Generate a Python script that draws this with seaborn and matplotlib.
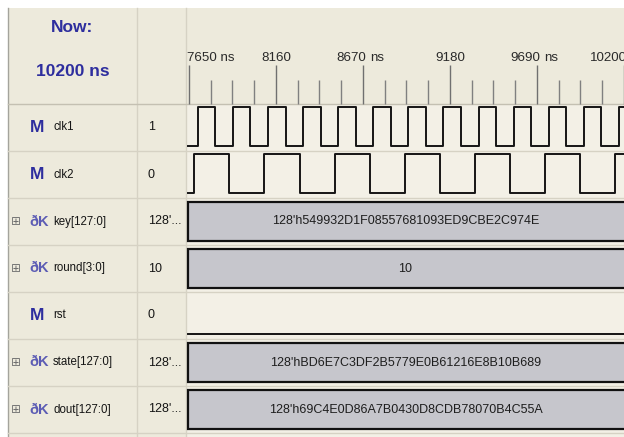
import pandas as pd
import matplotlib
matplotlib.use("Agg")
import matplotlib.pyplot as plt
import matplotlib.transforms as mtransforms
from matplotlib import font_manager
from matplotlib.patches import Rectangle
from matplotlib.ticker import MultipleLocator
import seaborn as sns

# ---- signal data (time in ns) ----
clk1_times = [7645, 7700, 7800, 7900, 8000, 8100, 8200, 8300, 8400, 8500, 8600, 8700, 8800,
              8900, 9000, 9100, 9200, 9300, 9400, 9500, 9600, 9700, 9800, 9900, 10000, 10100, 10200]
clk1_levels = [0, 1, 0, 1, 0, 1, 0, 1, 0, 1, 0, 1, 0, 1, 0, 1, 0, 1, 0, 1, 0, 1, 0, 1, 0, 1, 0]
clk2_times = [7645, 7680, 7880, 8080, 8280, 8480, 8680, 8880, 9080, 9280, 9480, 9680, 9880, 10080, 10280]
clk2_levels = [0, 1, 0, 1, 0, 1, 0, 1, 0, 1, 0, 1, 0, 1, 0]
rst_times = [7645, 10300]
rst_levels = [0, 0]

signal_names = ["clk1", "clk2", "key[127:0]", "round[3:0]", "rst", "state[127:0]", "dout[127:0]"]
signal_values = ["1", "0", "128'...", "10", "0", "128'...", "128'..."]
signal_is_bus = [False, False, True, True, False, True, True]

bus_rows = [2, 3, 5, 6]
bus_starts = [7645, 7645, 7645, 7645]
bus_ends = [10300, 10300, 10300, 10300]
bus_labels = ["128'h549932D1F08557681093ED9CBE2C974E",
              "10",
              "128'hBD6E7C3DF2B5779E0B61216E8B10B689",
              "128'h69C4E0D86A7B0430D8CDB78070B4C55A"]

major_ticks = [7650, 8160, 8670, 9180, 9690, 10200]
major_labels = ["7650 ns", "8160", "8670 ns", "9180", "9690 ns", "10200"]
now_label = "10200 ns"

# ---- layout (pixels) ----
W, H = 624, 437
LEFT, TOP = 8, 8
COL1, WAVE_X = 137, 186
HEAD_Y, ROW_H = 104, 47
PX_PER_NS = 89.5 / 510
t0 = 7650 - 3 / PX_PER_NS
t1 = t0 + (W - WAVE_X) / PX_PER_NS

PANEL_BG = "#EDEADC"
WAVE_BG = "#F3F0E6"
GRID = "#D6D2C4"
BUS_FILL = "#C6C6CC"
ICON_BLUE = "#2E2E9E"


def pick_font():
    for name in ["Liberation Sans Narrow", "DejaVu Sans Condensed"]:
        try:
            font_manager.findfont(font_manager.FontProperties(family=name), fallback_to_default=False)
            return name, dict(bus=10.5, name=10, value=10.5, tick=11, head=14, icon=13)
        except ValueError:
            pass
    return "Liberation Sans", dict(bus=9, name=8.3, value=9, tick=9.6, head=12.5, icon=12.5)


FONT, SIZES = pick_font()
plt.rcParams["font.family"] = [FONT, "DejaVu Sans"]

fig = plt.figure(figsize=(W / 100, H / 100), dpi=100)
fig.patch.set_facecolor("white")

# background / panel axes in pixel units
ax_bg = fig.add_axes([0, 0, 1, 1])
ax_bg.set_xlim(0, W)
ax_bg.set_ylim(H, 0)
ax_bg.axis("off")
ax_bg.add_patch(Rectangle((LEFT, TOP), W - LEFT, H - TOP, fc=PANEL_BG, ec="none"))
ax_bg.add_patch(Rectangle((WAVE_X, HEAD_Y), W - WAVE_X, H - HEAD_Y, fc=WAVE_BG, ec="none"))
ax_bg.plot([LEFT, LEFT], [TOP, H], color="#A4A49C", lw=1)
for x in [COL1, WAVE_X]:
    ax_bg.plot([x, x], [TOP, H], color=GRID, lw=1)
ax_bg.plot([LEFT, W], [HEAD_Y, HEAD_Y], color="#C4C0B2", lw=1)
for k in range(1, len(signal_names) + 1):
    y = HEAD_Y + k * ROW_H
    ax_bg.plot([LEFT, W], [y, y], color=GRID, lw=1)

# header "Now:"
ax_bg.text((LEFT + COL1) / 2, 28, "Now:", ha="center", va="center",
           fontsize=SIZES["head"], fontweight="bold", color=ICON_BLUE)
ax_bg.text((LEFT + COL1) / 2, 72, now_label, ha="center", va="center",
           fontsize=SIZES["head"], fontweight="bold", color=ICON_BLUE)

# names and values
for i, (name, val, bus) in enumerate(zip(signal_names, signal_values, signal_is_bus)):
    yc = HEAD_Y + i * ROW_H + ROW_H / 2
    if bus:
        ax_bg.text(11, yc, "\u229e", ha="left", va="center", fontsize=8.5,
                   color="#707070", family=["DejaVu Sans"])
        ax_bg.text(29, yc, "\u00f0K", ha="left", va="center", fontsize=SIZES["icon"] - 2,
                   fontweight="bold", color="#5C5CB4")
    else:
        ax_bg.text(30, yc, "M", ha="left", va="center", fontsize=SIZES["icon"],
                   fontweight="bold", color=ICON_BLUE)
    ax_bg.text(53, yc, name, ha="left", va="center", fontsize=SIZES["name"], color="#151515")
    ax_bg.text(148, yc, val, ha="left", va="center", fontsize=SIZES["value"], color="#151515")

# ---- waveform axes: x in ns, y in rows ----
n_rows = (H - HEAD_Y) / ROW_H
ax_w = fig.add_axes([WAVE_X / W, 0, (W - WAVE_X) / W, (H - HEAD_Y) / H])
ax_w.set_facecolor("none")

HIGH, LOW = 3 / ROW_H, 42 / ROW_H
frames = []
for row, (ts, lv) in {0: (clk1_times, clk1_levels), 1: (clk2_times, clk2_levels),
                      4: (rst_times, rst_levels)}.items():
    frames.append(pd.DataFrame({"t": ts,
                                "y": [row + (HIGH if v else LOW) for v in lv],
                                "signal": signal_names[row]}))
waves = pd.concat(frames, ignore_index=True)
sns.lineplot(data=waves, x="t", y="y", units="signal", estimator=None, sort=False,
             drawstyle="steps-post", color="#151515", linewidth=1.4, legend=False, ax=ax_w)

ax_w.barh([r + 0.5 for r in bus_rows], [e - s for s, e in zip(bus_starts, bus_ends)],
          left=bus_starts, height=LOW - HIGH, color=BUS_FILL, edgecolor="#111111", linewidth=1.6)
for r, lab in zip(bus_rows, bus_labels):
    ax_w.text((t0 + t1) / 2 + 3, r + 0.5, lab, ha="center", va="center",
              fontsize=SIZES["bus"], color="#1E1E1E")

ax_w.set_xlim(t0, t1)
ax_w.set_ylim(n_rows, 0)
ax_w.axis("off")

# ---- header time ruler ----
ax_h = fig.add_axes([WAVE_X / W, (H - HEAD_Y) / H, (W - WAVE_X) / W, (HEAD_Y - TOP) / H])
ax_h.set_facecolor("none")
ax_h.set_xlim(t0, t1)
ax_h.set_ylim(0, 1)
ax_h.set_xticks(major_ticks)
ax_h.xaxis.set_minor_locator(MultipleLocator(127.5))
ax_h.tick_params(axis="x", which="major", direction="in", length=28, width=1,
                 color="#707070", labelbottom=False)
ax_h.tick_params(axis="x", which="minor", direction="in", length=17, width=1, color="#808080")
ax_h.set_yticks([])
for s in ax_h.spines.values():
    s.set_visible(False)

lab_trans = mtransforms.blended_transform_factory(ax_h.transData, ax_h.transAxes)
LAB_Y = (HEAD_Y - 58) / (HEAD_Y - TOP)
for i, (tk, lab) in enumerate(zip(major_ticks, major_labels)):
    num, _, unit = lab.partition(" ")
    kw = dict(va="center", fontsize=SIZES["tick"], color="#2A2A2A")
    if i == 0:
        tr = mtransforms.offset_copy(lab_trans, fig=fig, x=-2, y=0, units="dots")
        ax_h.text(tk, LAB_Y, lab, transform=tr, ha="left", **kw)
    elif unit or i == len(major_ticks) - 1:
        tr = mtransforms.offset_copy(lab_trans, fig=fig, x=3, y=0, units="dots")
        ax_h.text(tk, LAB_Y, num, transform=tr, ha="right", **kw)
        if unit:
            tr = mtransforms.offset_copy(lab_trans, fig=fig, x=7, y=0, units="dots")
            ax_h.text(tk, LAB_Y, unit, transform=tr, ha="left", **kw)
    else:
        ax_h.text(tk, LAB_Y, num, transform=lab_trans, ha="center", **kw)

fig.savefig("out.png", dpi=100)
